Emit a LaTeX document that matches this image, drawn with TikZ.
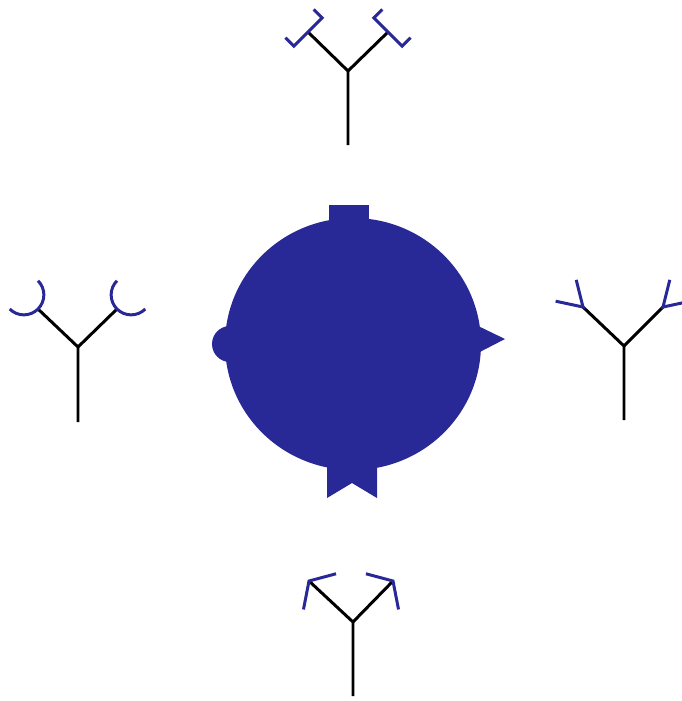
\documentclass[tikz,border=0pt]{standalone}
\usepackage{tikz}
\usetikzlibrary{calc}
\definecolor{antigenblue}{RGB}{40,40,150}

\begin{document}
\begin{tikzpicture}[
  x=0.02cm, y=-0.02cm,
  stem/.style={draw=black, line width=1.7pt},
  site/.style={draw=antigenblue, line width=1.7pt},
]
  \useasboundingbox (0,0) rectangle (681,701);

  % Antigen with its four epitopes
  \fill[antigenblue] (353,344) ellipse[x radius=128, y radius=126];
  \fill[antigenblue] (329,205) rectangle (369,230);
  \fill[antigenblue] (327,460) -- (327,498) -- (352,483) -- (377,498) -- (377,460) -- cycle;
  \fill[antigenblue] (230,344) circle[radius=18];
  \fill[antigenblue] (474,324) -- (505,339) -- (474,355) -- cycle;

  % Top antibody (square pockets)
  \coordinate (tJ) at (348,71);
  \coordinate (tB) at (348,145);
  \coordinate (tL) at (308,32);
  \coordinate (tR) at (388,32);
  \draw[stem] (tB) -- (tJ) -- (tL);
  \draw[stem] (tJ) -- (tR);
  \draw[site] ($(tL)+(135:20)+(225:12)$) -- ($(tL)+(135:20)$)
    -- ($(tL)+(315:20)$) -- ($(tL)+(315:20)+(225:12)$);
  \draw[site] ($(tR)+(45:20)+(315:12)$) -- ($(tR)+(45:20)$)
    -- ($(tR)+(225:20)$) -- ($(tR)+(225:20)+(315:12)$);

  % Left antibody (round pockets)
  \coordinate (lJ) at (78,347);
  \coordinate (lB) at (78,422);
  \coordinate (lL) at (38,309);
  \coordinate (lR) at (117,309);
  \draw[stem] (lB) -- (lJ) -- (lL);
  \draw[stem] (lJ) -- (lR);
  \draw[site] ($(lL)+(225:20)$) ++(-45:20) arc[start angle=-45, end angle=135, radius=20];
  \draw[site] ($(lR)+(315:20)$) ++(45:20) arc[start angle=45, end angle=225, radius=20];

  % Right antibody (forked tips)
  \coordinate (rJ) at (624,346);
  \coordinate (rB) at (624,420);
  \coordinate (rL) at (583,307);
  \coordinate (rR) at (663,307);
  \draw[stem] (rB) -- (rJ) -- (rL);
  \draw[stem] (rJ) -- (rR);
  \draw[site] ($(rL)+(192:28)$) -- (rL) -- ($(rL)+(256:28)$);
  \draw[site] ($(rR)+(348:28)$) -- (rR) -- ($(rR)+(284:28)$);

  % Bottom antibody (open hooks)
  \coordinate (bJ) at (353,622);
  \coordinate (bB) at (353,696);
  \coordinate (bL) at (309,581);
  \coordinate (bR) at (393,581);
  \draw[stem] (bB) -- (bJ) -- (bL);
  \draw[stem] (bJ) -- (bR);
  \draw[site] ($(bL)+(345:28)$) -- (bL) -- ($(bL)+(101:29)$);
  \draw[site] ($(bR)+(195:28)$) -- (bR) -- ($(bR)+(79:29)$);
\end{tikzpicture}
\end{document}
